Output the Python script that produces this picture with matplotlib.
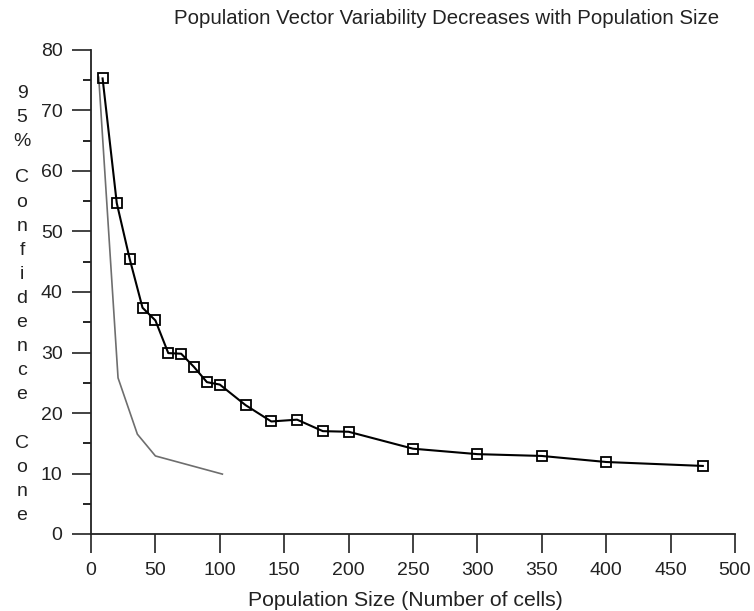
import matplotlib
matplotlib.use("Agg")
from matplotlib import pyplot as plt
from matplotlib.ticker import MultipleLocator

plt.rcParams["font.family"] = ["Liberation Sans", "DejaVu Sans"]

# population size vs 95% confidence cone
pop_size = [9, 20, 30, 40, 50, 60, 70, 80, 90, 100, 120, 140, 160, 180, 200,
            250, 300, 350, 400, 475]
cone = [75.3, 54.7, 45.5, 37.4, 35.3, 29.9, 29.8, 27.6, 25.1, 24.7, 21.3, 18.6,
        18.9, 17.0, 16.9, 14.1, 13.2, 12.9, 11.9, 11.25]

# thin grey comparison curve
grey_size = [6, 21, 36, 50, 102]
grey_cone = [75.5, 25.8, 16.5, 12.9, 9.9]

xticks = [0, 50, 100, 150, 200, 250, 300, 350, 400, 450, 500]
yticks = [0, 10, 20, 30, 40, 50, 60, 70, 80]
ylabel_words = ["95%", "Confidence", "Cone"]

W, H = 754, 611
fig = plt.figure(figsize=(W / 100, H / 100), dpi=100)
ax = fig.add_axes([91 / W, 1 - 534 / H, (735 - 91) / W, (534 - 50) / H])

ax.plot(grey_size, grey_cone, color="#6e6e6e", lw=1.2)
ax.plot(pop_size, cone, color="black", lw=1.5, marker="s", ms=7,
        mfc="none", mec="black", mew=1.3)

ax.set_xlim(0, 500)
ax.set_ylim(0, 80)
ax.set_xticks(xticks)
ax.set_yticks(yticks)
ax.yaxis.set_minor_locator(MultipleLocator(5))
ax.tick_params(axis="both", which="major", length=14, width=1.2,
               labelsize=14, direction="out", pad=6.5, colors="#222222")
ax.tick_params(axis="y", which="minor", length=6, width=1.2, direction="out")
for side in ["top", "right"]:
    ax.spines[side].set_visible(False)
for side in ["left", "bottom"]:
    ax.spines[side].set_linewidth(1.3)
    ax.spines[side].set_color("#222222")

fig.text(447 / W, 1 - 19 / H,
         "Population Vector Variability Decreases with Population Size",
         ha="center", va="center", fontsize=14.7, color="#222222")
fig.text(405 / W, 1 - 601 / H, "Population Size (Number of cells)",
         ha="center", va="center", fontsize=15.3, color="#222222")

# stacked vertical y label, one character per row, each word on its own block
word_top = [93, 178, 443]
step = 24.1
for word, top in zip(ylabel_words, word_top):
    for i, ch in enumerate(word):
        fig.text(22 / W, 1 - (top + i * step) / H, ch, ha="center",
                 va="center", fontsize=14, color="#222222")

fig.savefig("out.png", dpi=100)
